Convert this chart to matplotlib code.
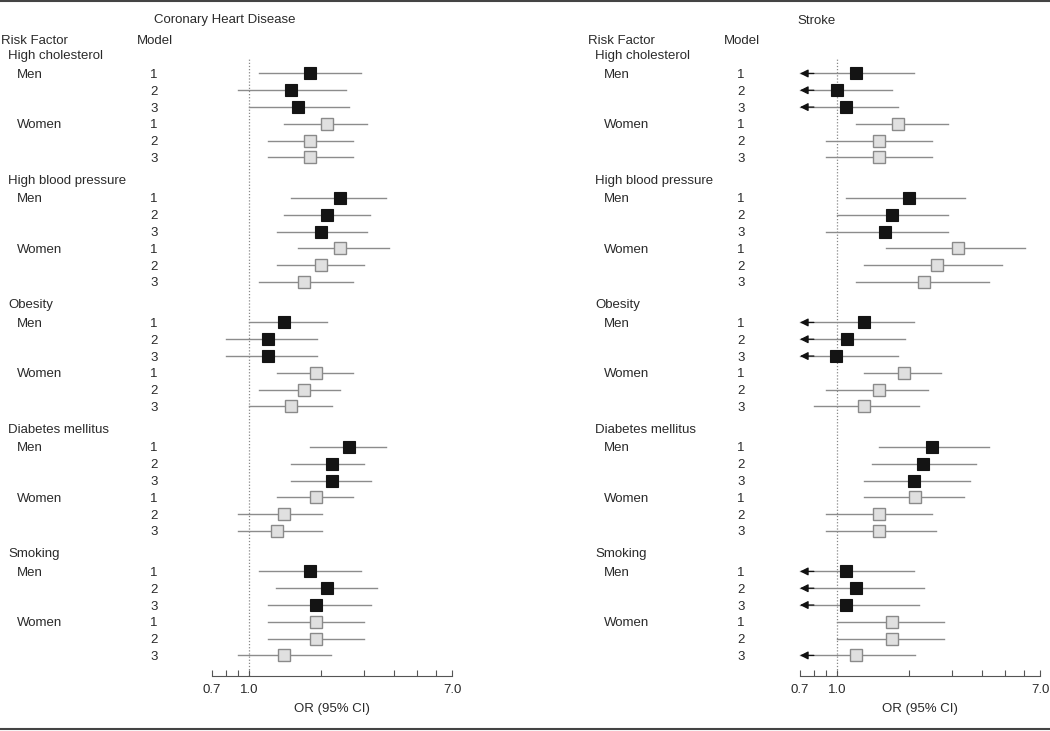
import numpy as np
import matplotlib
matplotlib.use("Agg")
import matplotlib.pyplot as plt
from matplotlib.lines import Line2D
from matplotlib.ticker import FixedLocator, NullFormatter
import matplotlib.transforms as mtransforms

plt.rcParams['font.family'] = ['Liberation Sans', 'DejaVu Sans']

# data
risk_factors = ["High cholesterol", "High blood pressure", "Obesity",
                "Diabetes mellitus", "Smoking"]
sexes = ["Men", "Women"]
models = ["1", "2", "3"]

# order: factor -> Men 1,2,3 -> Women 1,2,3
chd_est = [1.80, 1.50, 1.60, 2.10, 1.80, 1.80,
           2.39, 2.10, 2.00, 2.40, 2.00, 1.70,
           1.40, 1.20, 1.20, 1.90, 1.70, 1.50,
           2.60, 2.21, 2.21, 1.90, 1.40, 1.30,
           1.80, 2.10, 1.90, 1.90, 1.90, 1.40]
chd_lo = [1.10, 0.90, 1.00, 1.40, 1.20, 1.20,
          1.50, 1.40, 1.30, 1.60, 1.30, 1.10,
          1.00, 0.80, 0.80, 1.30, 1.10, 1.00,
          1.79, 1.50, 1.50, 1.30, 0.90, 0.90,
          1.10, 1.29, 1.20, 1.20, 1.20, 0.90]
chd_hi = [2.92, 2.52, 2.60, 3.10, 2.72, 2.72,
          3.70, 3.20, 3.10, 3.82, 3.00, 2.72,
          2.12, 1.91, 1.91, 2.72, 2.40, 2.21,
          3.73, 3.00, 3.22, 2.72, 2.01, 2.01,
          2.92, 3.42, 3.22, 3.00, 3.00, 2.19]

# None = lower limit below 0.7 (drawn as arrow)
stroke_est = [1.20, 1.00, 1.09, 1.80, 1.50, 1.50,
              2.00, 1.70, 1.58, 3.18, 2.60, 2.30,
              1.29, 1.10, 0.99, 1.89, 1.50, 1.29,
              2.48, 2.28, 2.09, 2.10, 1.50, 1.50,
              1.09, 1.20, 1.09, 1.70, 1.70, 1.20]
stroke_lo = [None, None, None, 1.20, 0.90, 0.90,
             1.09, 1.00, 0.90, 1.59, 1.29, 1.20,
             None, None, None, 1.29, 0.90, 0.80,
             1.50, 1.39, 1.29, 1.29, 0.90, 0.90,
             None, None, None, 1.00, 1.00, None]
stroke_hi = [2.09, 1.70, 1.80, 2.89, 2.49, 2.49,
             3.40, 2.90, 2.90, 6.05, 4.87, 4.28,
             2.09, 1.91, 1.80, 2.70, 2.39, 2.20,
             4.29, 3.80, 3.58, 3.39, 2.49, 2.59,
             2.09, 2.30, 2.20, 2.80, 2.80, 2.10]

W, H = 1050, 731
fig = plt.figure(figsize=(10.5, 7.31), dpi=100)

TXT = '#2a2a2a'
LINE = '#8c8c8c'
FS = 9.5
XMIN, XMAX = 0.7, 7.0
GROUP = 7.41
ROW0 = 1.1


def fx(px):
    return px / W


def fy(py):
    return 1 - py / H


def row_y(g, k):
    return g * GROUP + ROW0 + k


def panel(ax_left_px, est, lo, hi, title, title_x, rf_x, model_x):
    ax = fig.add_axes([fx(ax_left_px), fy(676), fx(240), 636 / H])
    ax.set_xscale('log')
    ax.set_xlim(XMIN, XMAX)
    ax.set_ylim((676 - 55) / 16.8, (40 - 55) / 16.8)
    for s in ['top', 'left', 'right']:
        ax.spines[s].set_visible(False)
    ax.spines['bottom'].set_color('#555555')
    ax.spines['bottom'].set_linewidth(0.8)
    ax.set_yticks([])
    ax.xaxis.set_major_locator(FixedLocator([0.7, 1.0, 7.0]))
    ax.xaxis.set_minor_locator(FixedLocator([0.8, 0.9, 2, 3, 4, 5, 6]))
    ax.set_xticklabels(['0.7', '1.0', '7.0'])
    ax.xaxis.set_minor_formatter(NullFormatter())
    ax.tick_params(axis='x', which='both', direction='in', length=4,
                   width=0.8, color='#555555', labelsize=FS, labelcolor=TXT, pad=6)
    ax.set_xlabel('OR (95% CI)', fontsize=FS, color=TXT, labelpad=5)

    ax.axvline(1.0, ymin=0, ymax=(676 - 58) / 636, color='#888888',
               lw=0.9, ls=(0, (1, 1.5)), zorder=1)

    tr = mtransforms.blended_transform_factory(fig.transFigure, ax.transData)
    n = len(models)
    for g, rf in enumerate(risk_factors):
        ax.text(fx(rf_x + 7), g * GROUP, rf, transform=tr, fontsize=FS,
                color=TXT, va='center_baseline', ha='left')
        for si, sex in enumerate(sexes):
            for mi, m in enumerate(models):
                k = si * n + mi
                i = g * len(sexes) * n + k
                y = row_y(g, k)
                if mi == 0:
                    ax.text(fx(rf_x + 16), y, sex, transform=tr, fontsize=FS,
                            color=TXT, va='center_baseline', ha='left')
                ax.text(fx(model_x), y, m, transform=tr, fontsize=FS,
                        color=TXT, va='center_baseline', ha='center')
                if lo[i] is None:
                    ax.plot([XMIN, hi[i]], [y, y], color=LINE, lw=1.0,
                            zorder=2, clip_on=False)
                    ax.annotate('', xy=(XMIN, y), xytext=(0.80, y),
                                arrowprops=dict(arrowstyle='-|>', color='#111111',
                                                lw=0.9, shrinkA=0, shrinkB=0,
                                                mutation_scale=12),
                                annotation_clip=False, zorder=3)
                else:
                    ax.plot([lo[i], hi[i]], [y, y], color=LINE, lw=1.0, zorder=2)
                if si == 0:
                    ax.plot(est[i], y, marker='s', ms=8.5, mfc='#141414',
                            mec='#141414', mew=0.8, zorder=4)
                else:
                    ax.plot(est[i], y, marker='s', ms=8.5, mfc='#e0e0e0',
                            mec='#8a8a8a', mew=1.0, zorder=4)

    fig.text(fx(title_x), fy(19), title, fontsize=FS, color=TXT,
             ha='center', va='center_baseline')
    fig.text(fx(rf_x), fy(39), 'Risk Factor', fontsize=FS, color=TXT,
             ha='left', va='center_baseline')
    fig.text(fx(model_x - 17), fy(39), 'Model', fontsize=FS, color=TXT,
             ha='left', va='center_baseline')
    return ax


panel(212, chd_est, chd_lo, chd_hi, 'Coronary Heart Disease', 225, 1, 154)
panel(800, stroke_est, stroke_lo, stroke_hi, 'Stroke', 817, 588, 741)

fig.add_artist(Line2D([0, 1], [fy(1), fy(1)], transform=fig.transFigure,
                      color='#444444', lw=1.5))
fig.add_artist(Line2D([0, 1], [fy(729), fy(729)], transform=fig.transFigure,
                      color='#444444', lw=1.5))

fig.savefig('out.png', dpi=100)
